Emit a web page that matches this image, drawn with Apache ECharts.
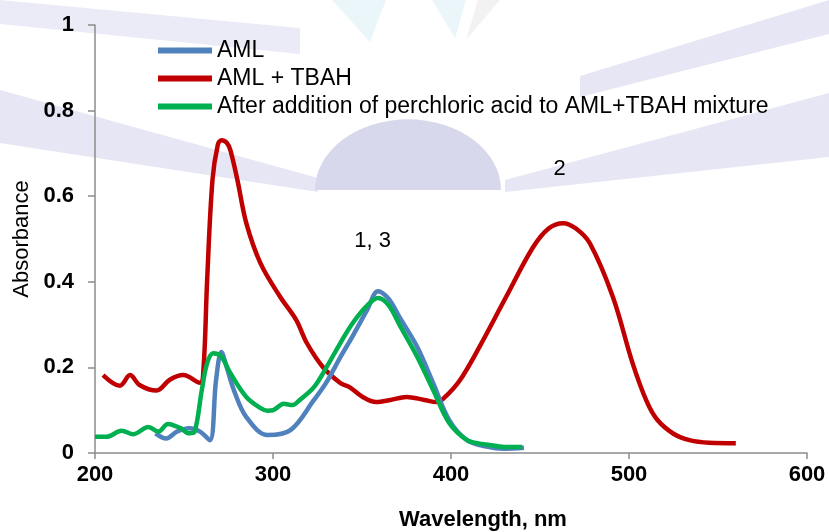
<!DOCTYPE html>
<html>
<head>
<meta charset="utf-8">
<script src="https://cdn.jsdelivr.net/npm/echarts/dist/echarts.min.js"></script>
<style>
  html, body { margin: 0; padding: 0; background: #fff; }
  #chart { width: 829px; height: 532px; }
</style>
</head>
<body>
<div id="chart"></div>
<script>
// names shown in the legend
const seriesNames = ['AML', 'AML + TBAH', 'After addition of perchloric acid to AML+TBAH mixture'];

// AML (curve 1)
const amlWl  = [234, 240, 246, 253, 259, 264.5, 268, 271, 274, 278, 285, 297, 310, 323, 330, 338, 345, 353, 359, 365, 371, 381, 390, 399, 409, 420, 430, 441];
const amlAbs = [0.046, 0.034, 0.05, 0.058, 0.05, 0.03, 0.17, 0.236, 0.2, 0.147, 0.084, 0.042, 0.054, 0.124, 0.165, 0.225, 0.275, 0.335, 0.378, 0.36, 0.318, 0.248, 0.163, 0.077, 0.03, 0.015, 0.01, 0.012];

// AML + TBAH (curve 2)
const tbahWl  = [204.5, 214, 219.7, 225, 234.6, 242, 249.6, 259, 261, 263, 266, 269, 271, 274, 276, 280, 285, 293, 304, 313, 319, 328, 338, 343, 350, 358, 366, 375, 385, 392, 396, 405, 416, 431, 446, 455, 463, 470, 478, 491, 502, 510, 516, 525, 534, 545, 560];
const tbahAbs = [0.182, 0.157, 0.182, 0.159, 0.146, 0.171, 0.182, 0.164, 0.2, 0.404, 0.638, 0.72, 0.731, 0.725, 0.708, 0.638, 0.537, 0.443, 0.365, 0.311, 0.257, 0.201, 0.163, 0.154, 0.132, 0.119, 0.124, 0.131, 0.124, 0.119, 0.128, 0.17, 0.248, 0.365, 0.48, 0.525, 0.537, 0.525, 0.49, 0.364, 0.21, 0.12, 0.077, 0.045, 0.03, 0.024, 0.023];

// after perchloric acid (curve 3)
const acidWl  = [200, 206.5, 215, 221.5, 230, 235.6, 241, 248, 253, 256, 260, 263, 266.4, 271, 276, 285, 293, 297, 300, 306, 311, 315, 323, 330, 338, 345, 353, 359, 365, 371, 381, 390, 399, 409, 416, 420, 430, 440];
const acidAbs = [0.038, 0.038, 0.052, 0.044, 0.061, 0.05, 0.068, 0.058, 0.046, 0.05, 0.147, 0.21, 0.233, 0.225, 0.187, 0.131, 0.105, 0.099, 0.1, 0.115, 0.112, 0.124, 0.154, 0.2, 0.258, 0.305, 0.345, 0.362, 0.345, 0.3, 0.225, 0.147, 0.07, 0.03, 0.022, 0.02, 0.014, 0.014];

// peak annotations
const peakLabels = ['1, 3', '2'];
const peakWl     = [356, 461];
const peakAbs    = [0.495, 0.664];

const colors = ['#4f81bd', '#c00000', '#00b050'];
const FONT = 'Liberation Sans, Arial, sans-serif';

const pairs = (xs, ys) => xs.map((x, i) => [x, ys[i]]);

const chart = echarts.init(document.getElementById('chart'));

// faint watermark behind the plot
const band = '#e2e2f3';
const watermark = [
  { type: 'polygon', shape: { points: [[0, 0], [0, 24], [300, 54], [300, 28]] }, style: { fill: band, opacity: 0.7 } },
  { type: 'polygon', shape: { points: [[0, 90], [0, 143], [318, 192], [318, 178]] }, style: { fill: band, opacity: 0.85 } },
  { type: 'polygon', shape: { points: [[829, 0], [829, 34], [580, 97], [580, 76]] }, style: { fill: band, opacity: 0.85 } },
  { type: 'polygon', shape: { points: [[829, 93], [829, 157], [505, 192], [505, 180]] }, style: { fill: band, opacity: 0.85 } },
  { type: 'polygon', shape: { points: [[332, 0], [386, 0], [370, 42]] }, style: { fill: '#e2f2fa', opacity: 0.7 } },
  { type: 'polygon', shape: { points: [[432, 0], [466, 0], [455, 38]] }, style: { fill: '#e2f2fa', opacity: 0.7 } },
  { type: 'polygon', shape: { points: [[478, 0], [500, 0], [466, 40]] }, style: { fill: '#ececec', opacity: 0.7 } },
  {
    type: 'sector',
    shape: { cx: 408, cy: 190, r0: 0, r: 93, startAngle: Math.PI, endAngle: 2 * Math.PI },
    scaleY: 0.76, originX: 408, originY: 190,
    style: { fill: '#d8d8ec' }
  }
].map(e => Object.assign(e, { silent: true, z: -10 }));

const lineSeries = [
  [amlWl, amlAbs],
  [tbahWl, tbahAbs],
  [acidWl, acidAbs]
].map(([xs, ys], i) => ({
  name: seriesNames[i],
  type: 'line',
  data: pairs(xs, ys),
  smooth: 0.35,
  showSymbol: false,
  symbol: 'none',
  lineStyle: { color: colors[i], width: 4.5 },
  itemStyle: { color: colors[i] },
  z: i === 0 ? 3 : (i === 2 ? 4 : 2),
  animation: false
}));

chart.setOption({
  backgroundColor: '#fff',
  animation: false,
  graphic: watermark,
  grid: { left: 95, right: 22, top: 25, bottom: 79, containLabel: false, outerBoundsMode: 'none' },
  legend: {
    data: seriesNames,
    orient: 'vertical',
    left: 158,
    top: 39,
    padding: 0,
    itemGap: 5,
    itemWidth: 54,
    itemHeight: 6,
    icon: 'rect',
    textStyle: { fontFamily: FONT, fontSize: 23, color: '#000' }
  },
  xAxis: {
    type: 'value',
    min: 200,
    max: 600,
    interval: 100,
    name: 'Wavelength, nm',
    nameLocation: 'middle',
    nameGap: 56,
    nameTextStyle: { fontFamily: FONT, fontSize: 22, fontWeight: 'bold', color: '#000', padding: [0, 0, 0, 64] },
    axisLine: { lineStyle: { color: '#8c8c8c', width: 1.5 } },
    axisTick: { show: true, length: 6, lineStyle: { color: '#8c8c8c', width: 1.5 } },
    axisLabel: { fontFamily: FONT, fontSize: 22, fontWeight: 'bold', color: '#000', margin: 11 },
    splitLine: { show: false }
  },
  yAxis: {
    type: 'value',
    min: 0,
    max: 1,
    interval: 0.2,
    name: 'Absorbance',
    nameLocation: 'middle',
    nameGap: 62,
    nameRotate: 90,
    nameTextStyle: { fontFamily: FONT, fontSize: 22, color: '#000' },
    axisLine: { show: true, lineStyle: { color: '#8c8c8c', width: 1.5 } },
    axisTick: { show: true, length: 7, lineStyle: { color: '#8c8c8c', width: 1.5 } },
    axisLabel: { fontFamily: FONT, fontSize: 22, fontWeight: 'bold', color: '#000', margin: 21 },
    splitLine: { show: false }
  },
  series: lineSeries.concat([{
    type: 'scatter',
    symbolSize: 0,
    silent: true,
    itemStyle: { opacity: 1, color: 'transparent' },
    data: peakLabels.map((t, i) => ({ name: t, value: [peakWl[i], peakAbs[i]] })),
    label: {
      show: true,
      position: 'inside',
      formatter: p => p.name,
      fontFamily: FONT,
      fontSize: 22,
      color: '#000',
      opacity: 1
    },
    animation: false
  }])
});
</script>
</body>
</html>
